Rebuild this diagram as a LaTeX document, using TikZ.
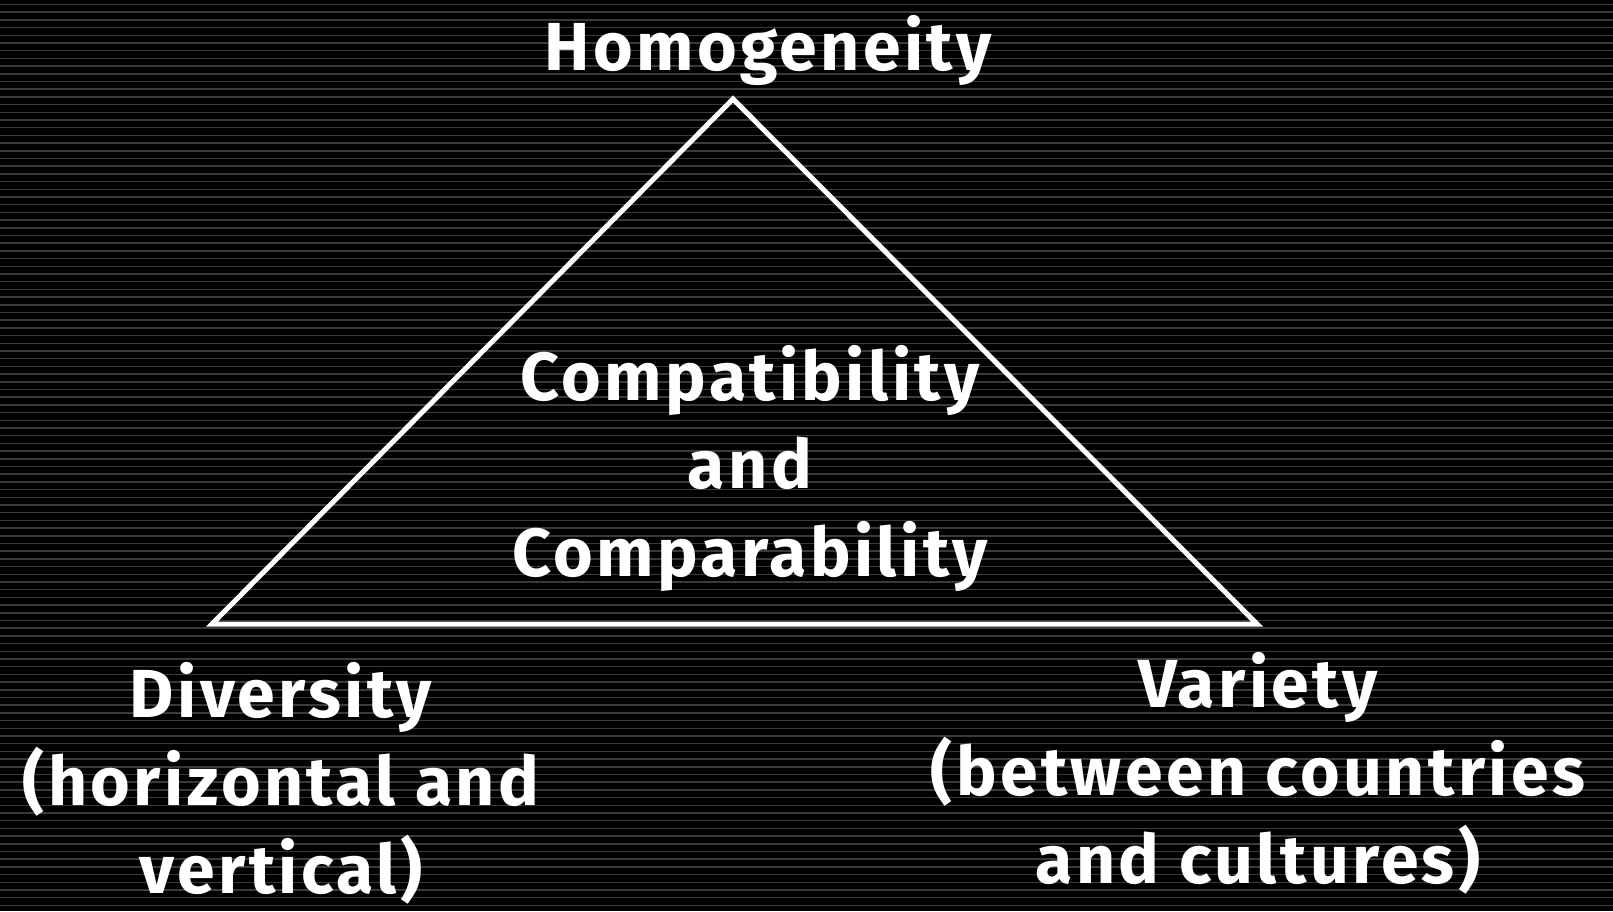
\documentclass[tikz,border=0pt]{standalone}
\usepackage{fontspec}
\setmainfont{Fira Sans}[UprightFont=* Bold, LetterSpace=5]
\usepackage{tikz}
\definecolor{stripegray}{RGB}{58,58,58}

\begin{document}
\begin{tikzpicture}[
  x=1pt, y=-1pt,
  label/.style={text=white, align=center, inner sep=0pt, font=\fontsize{68}{88}\selectfont},
  edge/.style={draw=white, line width=5pt, line join=miter}
]
\useasboundingbox (0,0) rectangle (1613,911);
% background
\fill[black] (0,0) rectangle (1613,911);
\foreach \y in {0,7.7,...,905}
  \draw[stripegray, line width=1.5pt] (0,\y+4.5) -- (1613,\y+4.5);

\coordinate (top) at (733,99);
\coordinate (left) at (212,624);
\coordinate (right) at (1257,624);
\draw[edge] (top) -- (right) -- (left) -- cycle;

\node[label, anchor=base] (homo) at (768,70) {Homogeneity};
\node[label, anchor=base] (comp) at (750,576) {Compatibility\\and\\Comparability};
\node[label, anchor=base] (div) at (281,893) {Diversity\\(horizontal and\\vertical)};
\node[label, anchor=base] (var) at (1258,883) {Variety\\(between countries\\and cultures)};
\end{tikzpicture}
\end{document}
